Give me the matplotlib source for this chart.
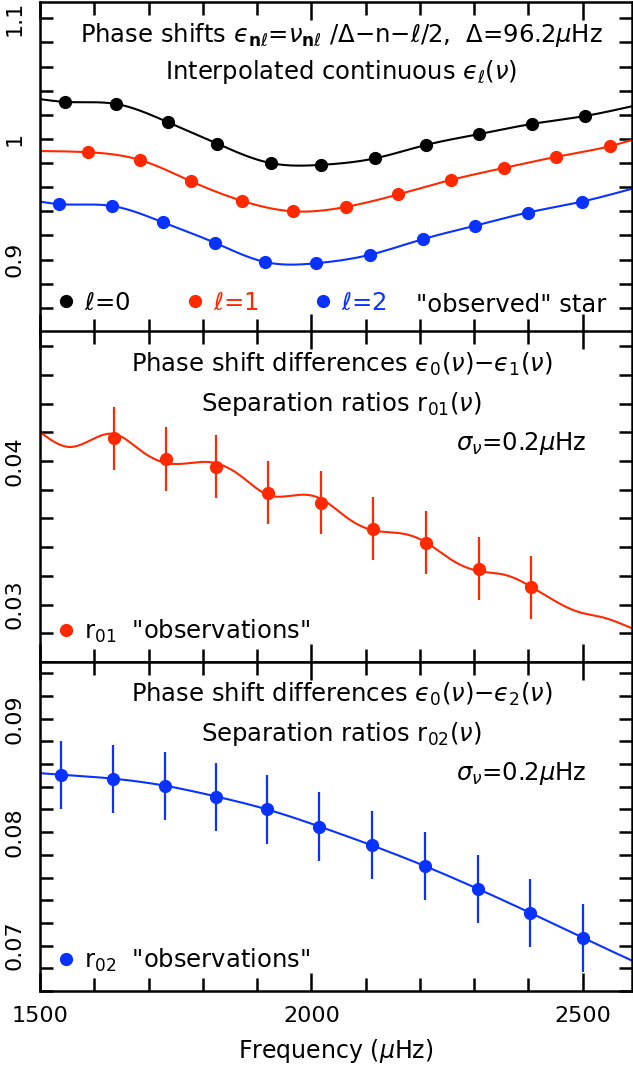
import numpy as np
import matplotlib
matplotlib.use('Agg')
import matplotlib.pyplot as plt
from matplotlib.lines import Line2D
from matplotlib.ticker import MultipleLocator

plt.rcParams['font.family'] = 'DejaVu Sans'
plt.rcParams['mathtext.fontset'] = 'dejavusans'
plt.rcParams['font.size'] = 16

ROJO = '#ff2800'
AZUL = '#0a32ff'
FS = 17.5  # texto dentro dos paineis

# painel de cima: epsilon_l nos modos "observados"
nu_l0 = [1546, 1640, 1735, 1827, 1925, 2017, 2118, 2211, 2309, 2406, 2504]
eps_l0 = [1.0307, 1.029, 1.014, 0.996, 0.980, 0.9785, 0.984, 0.995, 1.004, 1.0124, 1.019]
nu_l1 = [1588, 1684, 1778, 1873, 1967, 2064, 2160, 2257, 2355, 2450, 2550]
eps_l1 = [0.989, 0.9826, 0.965, 0.9486, 0.940, 0.9437, 0.954, 0.966, 0.976, 0.985, 0.994]
nu_l2 = [1535, 1632, 1726, 1822, 1915, 2009, 2108, 2206, 2301, 2399, 2498]
eps_l2 = [0.946, 0.9445, 0.931, 0.914, 0.898, 0.897, 0.904, 0.917, 0.928, 0.939, 0.948]
# valores das curvas nas bordas (1500 e 2590)
borda_nu = [1500, 2590]
borda_l0 = [1.033, 1.027]
borda_l1 = [0.990, 0.999]
borda_l2 = [0.948, 0.9586]

# painel do meio: r01
nu_r01 = [1636, 1732, 1825, 1921, 2017, 2114, 2211, 2309, 2404]
r01 = [0.0416, 0.04014, 0.0396, 0.0378, 0.0371, 0.0353, 0.0343, 0.0325, 0.0312]
r01_err = [0.0022] * 9
curva01_nu = [1500, 1555, 1638, 1684, 1733, 1776, 1812, 1868, 1921, 1972, 2015, 2064,
              2112, 2162, 2204, 2259, 2309, 2358, 2406, 2456, 2493, 2535, 2590]
curva01 = [0.04202, 0.04098, 0.04188, 0.04077, 0.03986, 0.03986, 0.03993, 0.03902,
           0.03763, 0.03763, 0.03742, 0.03610, 0.03519, 0.03498, 0.03449, 0.03310,
           0.03233, 0.03206, 0.03122, 0.03010, 0.02948, 0.02913, 0.02836]

# painel de baixo: r02
nu_r02 = [1539, 1634, 1730, 1825, 1919, 2015, 2112, 2210, 2307, 2403, 2500]
r02 = [0.08507, 0.08472, 0.0841, 0.08314, 0.0820, 0.0805, 0.07883, 0.0770, 0.0750, 0.0729, 0.0707]
r02_err = [0.003] * 11
borda_r02 = [0.0852, 0.0687]


def spline(x, y, n=600):
    # spline cúbica natural só para desenhar a curva suave
    x = np.asarray(x, float)
    y = np.asarray(y, float)
    k = len(x)
    h = np.diff(x)
    A = np.zeros((k, k))
    b = np.zeros(k)
    A[0, 0] = A[-1, -1] = 1
    for i in range(1, k - 1):
        A[i, i - 1] = h[i - 1]
        A[i, i] = 2 * (h[i - 1] + h[i])
        A[i, i + 1] = h[i]
        b[i] = 3 * ((y[i + 1] - y[i]) / h[i] - (y[i] - y[i - 1]) / h[i - 1])
    c = np.linalg.solve(A, b)
    bb = (y[1:] - y[:-1]) / h - h * (2 * c[:-1] + c[1:]) / 3
    d = (c[1:] - c[:-1]) / (3 * h)
    xs = np.linspace(x[0], x[-1], n)
    j = np.clip(np.searchsorted(x, xs) - 1, 0, k - 2)
    t = xs - x[j]
    ys = y[j] + bb[j] * t + c[j] * t ** 2 + d[j] * t ** 3
    return xs, ys


def junta(nu, val, bordas):
    return [borda_nu[0]] + list(nu) + [borda_nu[1]], [bordas[0]] + list(val) + [bordas[1]]


W, H = 633, 1068
fig = plt.figure(figsize=(W / 100, H / 100), dpi=100)
x0 = 40 / W
larg = 591.5 / W
ax1 = fig.add_axes([x0, (H - 332) / H, larg, 330 / H])
ax2 = fig.add_axes([x0, (H - 662) / H, larg, 331 / H])
ax3 = fig.add_axes([x0, (H - 991) / H, larg, 329 / H])

for ax in (ax1, ax2, ax3):
    ax.set_xlim(1500, 2590)
    ax.xaxis.set_major_locator(MultipleLocator(500))
    ax.xaxis.set_minor_locator(MultipleLocator(100))
    ax.tick_params(which='both', direction='in', top=True, right=True, width=1.8)
    ax.tick_params(axis='x', which='major', length=13, pad=11)
    ax.tick_params(axis='x', which='minor', length=9.5)
    ax.tick_params(axis='y', which='both', length=9.5, pad=11)
    for s in ax.spines.values():
        s.set_linewidth(1.8)

ax1.tick_params(labelbottom=False)
ax2.tick_params(labelbottom=False)

# ---- painel 1
for nu, eps, bordas, cor in [(nu_l0, eps_l0, borda_l0, 'black'),
                             (nu_l1, eps_l1, borda_l1, ROJO),
                             (nu_l2, eps_l2, borda_l2, AZUL)]:
    xs, ys = spline(*junta(nu, eps, bordas))
    ax1.plot(xs, ys, color=cor, lw=1.5)
    ax1.plot(nu, eps, 'o', color=cor, ms=8.5)
ax1.set_ylim(0.84, 1.1135)
ax1.yaxis.set_minor_locator(MultipleLocator(0.02))
ax1.set_yticks([0.9, 1.0, 1.1])
ax1.set_yticklabels(['0.9', '1', '1.1'])
ax1.text(0.51, 0.9, 'Phase shifts $ϵ_{\\mathbf{n}\\ell}$=$\\nu_{\\mathbf{n}\\ell}$ /$\\Delta$$-$n$-\\ell$/2,  $\\Delta$=96.2$\\mu$Hz',
         transform=ax1.transAxes, ha='center', va='center', fontsize=FS)
ax1.text(0.51, 0.787, 'Interpolated continuous $ϵ_\\ell(\\nu)$',
         transform=ax1.transAxes, ha='center', va='center', fontsize=FS)
alcas = [Line2D([], [], marker='o', ls='none', color=c, ms=8.5) for c in ('black', ROJO, AZUL)]
ax1.legend(alcas, [r'$\ell$=0', r'$\ell$=1', r'$\ell$=2'], labelcolor=['black', ROJO, AZUL],
           ncol=3, loc='lower left', bbox_to_anchor=(0.0, 0.0), frameon=False, fontsize=FS,
           handlelength=0.7, handletextpad=0.4, columnspacing=2.3, borderaxespad=0.3)
ax1.text(0.958, 0.083, '"observed" star', transform=ax1.transAxes, ha='right', va='center',
         fontsize=FS)

# ---- painel 2
xs, ys = spline(curva01_nu, curva01)
ax2.plot(xs, ys, color=ROJO, lw=1.5)
ax2.errorbar(nu_r01, r01, yerr=r01_err, fmt='o', color=ROJO, ms=8.5, elinewidth=1.6, capsize=0)
ax2.set_ylim(0.026, 0.04906)
ax2.yaxis.set_major_locator(MultipleLocator(0.01))
ax2.yaxis.set_minor_locator(MultipleLocator(0.002))
ax2.text(0.51, 0.9, 'Phase shift differences $ϵ_0(\\nu)$$-$$ϵ_1(\\nu)$',
         transform=ax2.transAxes, ha='center', va='center', fontsize=FS)
ax2.text(0.51, 0.78, r'Separation ratios r$_{01}(\nu)$',
         transform=ax2.transAxes, ha='center', va='center', fontsize=FS)
ax2.text(0.923, 0.66, r'$\sigma_\nu$=0.2$\mu$Hz', transform=ax2.transAxes, ha='right', va='center',
         fontsize=FS)
ax2.legend([Line2D([], [], marker='o', ls='none', color=ROJO, ms=8.5)], [r'r$_{01}$  "observations"'],
           loc='lower left', frameon=False, fontsize=FS, handlelength=0.7, handletextpad=0.4,
           borderaxespad=0.3)

# ---- painel 3
xs, ys = spline(*junta(nu_r02, r02, borda_r02))
ax3.plot(xs, ys, color=AZUL, lw=1.5)
ax3.errorbar(nu_r02, r02, yerr=r02_err, fmt='o', color=AZUL, ms=8.5, elinewidth=1.6, capsize=0)
ax3.set_ylim(0.066, 0.095)
ax3.yaxis.set_major_locator(MultipleLocator(0.01))
ax3.yaxis.set_minor_locator(MultipleLocator(0.002))
ax3.text(0.51, 0.9, 'Phase shift differences $ϵ_0(\\nu)$$-$$ϵ_2(\\nu)$',
         transform=ax3.transAxes, ha='center', va='center', fontsize=FS)
ax3.text(0.51, 0.78, r'Separation ratios r$_{02}(\nu)$',
         transform=ax3.transAxes, ha='center', va='center', fontsize=FS)
ax3.text(0.923, 0.66, r'$\sigma_\nu$=0.2$\mu$Hz', transform=ax3.transAxes, ha='right', va='center',
         fontsize=FS)
ax3.legend([Line2D([], [], marker='o', ls='none', color=AZUL, ms=8.5)], [r'r$_{02}$  "observations"'],
           loc='lower left', frameon=False, fontsize=FS, handlelength=0.7, handletextpad=0.4,
           borderaxespad=0.3)
ax3.set_xlabel(r'Frequency ($\mu$Hz)', labelpad=8, fontsize=17)

for ax in (ax1, ax2, ax3):
    for lab in ax.get_yticklabels():
        lab.set_rotation(90)
        lab.set_va('center')

fig.savefig('out.png', dpi=100)
